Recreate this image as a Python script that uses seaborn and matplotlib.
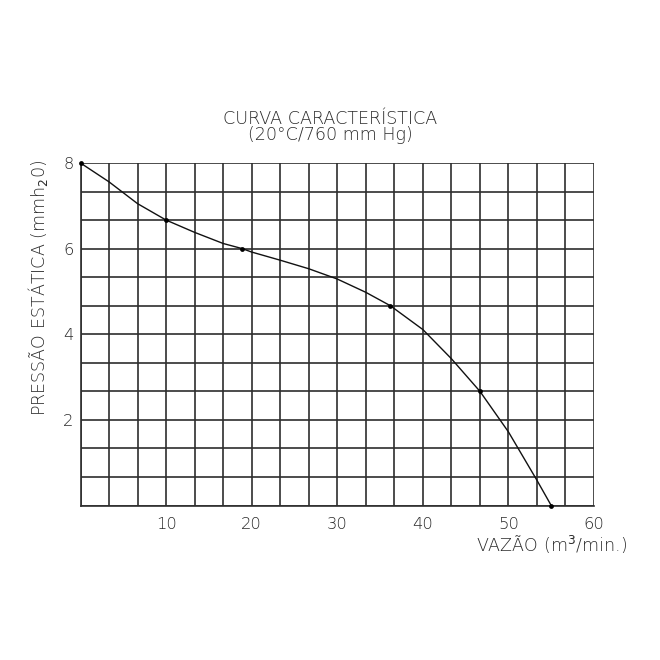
import numpy as np
import pandas as pd
import matplotlib
matplotlib.use("Agg")
import matplotlib.pyplot as plt
import seaborn as sns

# ---- data ----
curve_x = [0, 3.33, 6.67, 10, 13.33, 16.67, 18.9, 20, 23.33, 26.67, 30, 33.33,
           36.2, 40, 43.33, 46.67, 50, 53.33, 55]
curve_y = [8, 7.56, 7.05, 6.667, 6.38, 6.12, 6.0, 5.92, 5.73, 5.53, 5.29, 4.98,
           4.667, 4.11, 3.43, 2.667, 1.72, 0.59, 0]
point_x = [0, 10, 18.9, 36.2, 46.67, 55]
point_y = [8, 6.667, 6.0, 4.667, 2.667, 0]
x_ticks = [10, 20, 30, 40, 50, 60]
x_tick_labels = ["10", "20", "30", "40", "50", "60"]
y_ticks = [2, 4, 6, 8]
y_tick_labels = ["2", "4", "6", "8"]
title_1 = "CURVA CARACTERÍSTICA"
title_2 = "(20°C/760 mm Hg)"
x_label = "VAZÃO (m$^3$/min.)"
y_label = "PRESSÃO ESTÁTICA (mmh$_2$0)"

sns.set_theme(style="white")
plt.rcParams["font.family"] = ["DejaVu Sans"]
TXT = "#2a2a2a"
FS = 12.6

curve = pd.DataFrame({"x": curve_x, "y": curve_y})
pts = pd.DataFrame({"x": point_x, "y": point_y})

fig = plt.figure(figsize=(6.6, 6.6), dpi=100)
ax = fig.add_axes([80.5 / 660, 1 - 505.5 / 660, (594 - 80.5) / 660, (505.5 - 163) / 660])

ax.set_xlim(0, 60)
ax.set_ylim(0, 8)
ax.set_xticks(x_ticks)
ax.set_xticklabels(x_tick_labels)
ax.set_yticks(y_ticks)
ax.set_yticklabels(y_tick_labels)
ax.set_xticks(np.arange(0, 60.01, 10 / 3), minor=True)
ax.set_yticks(np.arange(0, 8.01, 2 / 3), minor=True)
ax.grid(which="both", color="#2e2e2e", linewidth=1.2)
ax.set_axisbelow(True)
ax.tick_params(which="both", length=0)
ax.tick_params(axis="x", pad=8, labelsize=11.8, labelcolor=TXT)
ax.tick_params(axis="y", pad=5, labelsize=11.8, labelcolor=TXT)
for lab in ax.get_xticklabels() + ax.get_yticklabels():
    lab.set_fontweight("light")
for s in ["top", "right"]:
    ax.spines[s].set_visible(False)
for s in ["left", "bottom"]:
    ax.spines[s].set_color("#2e2e2e")
    ax.spines[s].set_linewidth(1.2)

sns.lineplot(data=curve, x="x", y="y", ax=ax, color="#111111", linewidth=1.0,
             sort=False, estimator=None)
sns.scatterplot(data=pts, x="x", y="y", ax=ax, color="black", s=12,
                edgecolor="black", linewidth=0, clip_on=False, zorder=5)
ax.set_xlabel("")
ax.set_ylabel("")

fig.text(330 / 660, 1 - 118.5 / 660, title_1, ha="center", va="center",
         fontsize=FS, color=TXT, fontweight="light")
fig.text(330 / 660, 1 - 135 / 660, title_2, ha="center", va="center",
         fontsize=FS, color=TXT, fontweight="light")
fig.text(627 / 660, 1 - 545 / 660, x_label, ha="right", va="center",
         fontsize=FS, color=TXT, fontweight="light")
fig.text(38 / 660, 1 - 288 / 660, y_label, ha="center", va="center",
         rotation=90, fontsize=FS, color=TXT, fontweight="light")

fig.savefig("out.png", dpi=100, facecolor="white")
